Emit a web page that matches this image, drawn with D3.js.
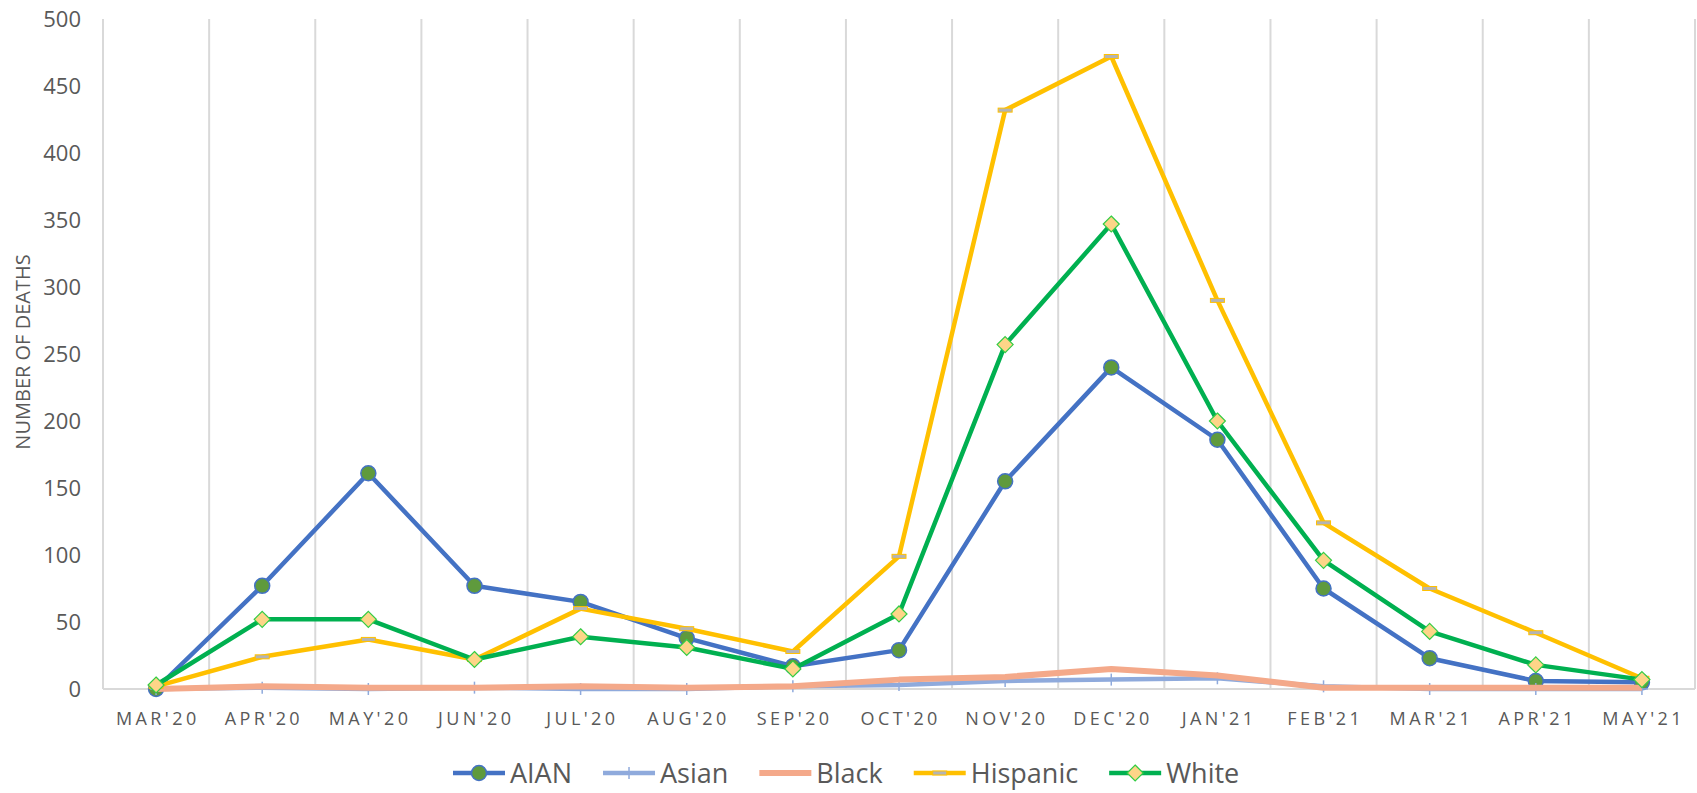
<!DOCTYPE html>
<html>
<head>
<meta charset="utf-8">
<script src="https://cdn.jsdelivr.net/npm/d3@7"></script>
<style>
  body { margin: 0; background: #fff; }
  svg text { font-family: "Open Sans", sans-serif; fill: #595959; }
</style>
</head>
<body>
<div id="chart"></div>
<script>
// monthly deaths by group
let months = ["MAR'20", "APR'20", "MAY'20", "JUN'20", "JUL'20", "AUG'20", "SEP'20", "OCT'20",
  "NOV'20", "DEC'20", "JAN'21", "FEB'21", "MAR'21", "APR'21", "MAY'21"]
let aian = [0, 77, 161, 77, 65, 38, 17, 29, 155, 240, 186, 75, 23, 6, 5]
let asian = [0, 1, 0, 1, 0, 0, 2, 3, 6, 7, 8, 2, 0, 0, 0]
let black = [0, 2, 1, 1, 2, 1, 2, 7, 9, 15, 10, 1, 1, 1, 1]
let hispanic = [2, 24, 37, 22, 60, 45, 28, 99, 432, 472, 290, 124, 75, 42, 8]
let white = [3, 52, 52, 22, 39, 31, 15, 56, 257, 347, 200, 96, 43, 18, 7]
let yTicks = [0, 50, 100, 150, 200, 250, 300, 350, 400, 450, 500]

let width = 1697, height = 793
let margin = {top: 19, left: 103, right: 2, bottom: 104}

let svg = d3.select("#chart").append("svg")
  .attr("width", width)
  .attr("height", height)

let x = d3.scaleBand().domain(months).range([margin.left, width - margin.right]).padding(0)
let y = d3.scaleLinear().domain([0, 500]).range([height - margin.bottom, margin.top])
let cx = function(d) { return x(d) + x.bandwidth() / 2 }

// vertical gridlines on the category boundaries
let bounds = months.map(function(m) { return x(m) }).concat([x(months[months.length - 1]) + x.bandwidth()])
svg.append("g").selectAll("line")
  .data(bounds)
  .enter().append("line")
  .attr("x1", function(d) { return d }).attr("x2", function(d) { return d })
  .attr("y1", y(500)).attr("y2", y(0))
  .attr("stroke", "#d9d9d9").attr("stroke-width", 2)

svg.append("line")
  .attr("x1", x.range()[0]).attr("x2", x.range()[1])
  .attr("y1", y(0)).attr("y2", y(0))
  .attr("stroke", "#d9d9d9").attr("stroke-width", 2)

// y axis labels
let yAxis = svg.append("g")
  .attr("transform", "translate(81,0)")
  .call(d3.axisLeft(y).tickValues(yTicks).tickSize(0).tickPadding(0))
yAxis.select(".domain").remove()
yAxis.selectAll("text")
  .style("font-size", "22px")
  .attr("fill", "#595959")

// x axis labels
let xAxis = svg.append("g")
  .attr("transform", "translate(0," + y(0) + ")")
  .call(d3.axisBottom(x).tickSize(0).tickPadding(0))
xAxis.select(".domain").remove()
xAxis.selectAll("text")
  .attr("y", 36)
  .attr("dy", 0)
  .attr("dx", "1.7px")
  .style("font-size", "18px")
  .style("letter-spacing", "3.4px")
  .attr("fill", "#595959")

svg.append("text")
  .attr("transform", "translate(30," + 352 + ") rotate(-90)")
  .attr("text-anchor", "middle")
  .style("font-size", "20px")
  .text("NUMBER OF DEATHS")

let series = [
  {name: "AIAN", values: aian, color: "#4472c4", width: 4.5, marker: "circle"},
  {name: "Asian", values: asian, color: "#8faadc", width: 4.5, marker: "plus"},
  {name: "Black", values: black, color: "#f4a98a", width: 6, marker: "none"},
  {name: "Hispanic", values: hispanic, color: "#ffc000", width: 4.5, marker: "dash"},
  {name: "White", values: white, color: "#00b050", width: 4.5, marker: "diamond"}
]

let line = d3.line()
  .x(function(d, i) { return cx(months[i]) })
  .y(function(d) { return y(d) })

function drawMarker(g, type, color) {
  if (type == "circle") {
    g.append("circle").attr("r", 7.5)
      .attr("fill", "#5f9a3d").attr("stroke", color).attr("stroke-width", 1.5)
  } else if (type == "plus") {
    g.append("line").attr("x1", 0).attr("x2", 0).attr("y1", -6).attr("y2", 6)
      .attr("stroke", color).attr("stroke-width", 1.5)
    g.append("line").attr("x1", -6).attr("x2", 6).attr("y1", 0).attr("y2", 0)
      .attr("stroke", color).attr("stroke-width", 1.5)
  } else if (type == "dash") {
    g.append("rect").attr("x", -7).attr("y", -2).attr("width", 14).attr("height", 4)
      .attr("fill", "#b4b4b4").attr("stroke", color).attr("stroke-width", 1)
  } else if (type == "diamond") {
    g.append("path").attr("d", "M0,-8L8,0L0,8L-8,0Z")
      .attr("fill", "#fdd588").attr("stroke", "#33cc44").attr("stroke-width", 1.2)
  }
}

series.forEach(function(s) {
  let g = svg.append("g").attr("class", "series " + s.name)
  g.append("path")
    .attr("d", line(s.values))
    .attr("fill", "none")
    .attr("stroke", s.color)
    .attr("stroke-width", s.width)
    .attr("stroke-linejoin", "round")
  s.values.forEach(function(v, i) {
    let m = g.append("g").attr("transform", "translate(" + cx(months[i]) + "," + y(v) + ")")
    drawMarker(m, s.marker, s.color)
  })
})

// legend
let lx = 453, ly = 773
series.forEach(function(s) {
  let g = svg.append("g").attr("class", "legend")
  g.append("line")
    .attr("x1", lx).attr("x2", lx + 52).attr("y1", ly).attr("y2", ly)
    .attr("stroke", s.color).attr("stroke-width", s.width)
  let m = g.append("g").attr("transform", "translate(" + (lx + 26) + "," + ly + ")")
  drawMarker(m, s.marker, s.color)
  let t = g.append("text")
    .attr("x", lx + 57).attr("y", ly)
    .attr("dy", "0.36em")
    .style("font-size", "27px")
    .text(s.name)
  lx = lx + 57 + t.node().getComputedTextLength() + 31
})
</script>
</body>
</html>
